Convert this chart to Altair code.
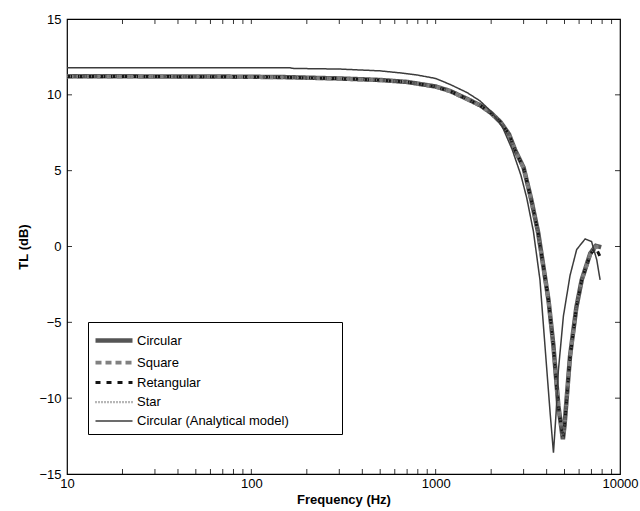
import altair as alt
import pandas as pd

# ---- data ----
series_names = ["Circular", "Square", "Retangular", "Star", "Circular (Analytical model)"]

freq_num = [10, 20, 40, 80, 150, 300, 500, 700, 1000, 1200, 1500, 1750, 2000, 2250, 2500,
            2700, 3000, 3300, 3600, 3850, 4100, 4350, 4630, 4900, 5000, 5360, 5800, 6200,
            6900, 7400, 7900]
circular = [11.22, 11.22, 11.21, 11.20, 11.17, 11.08, 10.98, 10.85, 10.55, 10.25, 9.70, 9.30,
            8.80, 8.20, 7.40, 6.35, 5.20, 3.10, 0.90, -1.40, -3.60, -6.50, -10.50, -12.70,
            -11.80, -7.20, -4.00, -2.20, -0.45, 0.05, -0.05]
square = [11.20, 11.20, 11.19, 11.18, 11.15, 11.06, 10.96, 10.83, 10.53, 10.23, 9.68, 9.28,
          8.78, 8.18, 7.38, 6.33, 5.15, 3.05, 0.85, -1.45, -3.65, -6.55, -10.60, -12.60,
          -11.90, -7.30, -4.05, -2.25, -0.50, 0.00, 0.00]
retangular = [11.21, 11.21, 11.20, 11.19, 11.16, 11.07, 10.97, 10.84, 10.54, 10.24, 9.69, 9.29,
              8.79, 8.19, 7.39, 6.34, 5.18, 3.08, 0.88, -1.42, -3.62, -6.52, -10.55, -12.65,
              -11.85, -7.25, -4.02, -2.22, -0.50, -0.10, -0.80]
star = [11.21, 11.21, 11.20, 11.19, 11.16, 11.07, 10.97, 10.84, 10.54, 10.24, 9.69, 9.29,
        8.79, 8.19, 7.39, 6.34, 5.19, 3.09, 0.89, -1.41, -3.61, -6.51, -10.52, -12.68,
        -11.82, -7.22, -4.01, -2.21, -0.46, 0.03, -0.05]

freq_ana = [10, 160, 170, 300, 500, 640, 800, 1000, 1200, 1480, 1740, 2000, 2300, 2600, 2900,
            3120, 3390, 3680, 3920, 4180, 4355, 4500, 4630, 4930, 5360, 5820, 6470, 7010,
            7480, 7800]
analytical = [11.79, 11.79, 11.74, 11.70, 11.58, 11.45, 11.30, 11.08, 10.68, 10.15, 9.60, 8.90,
              7.90, 6.40, 4.70, 3.20, 1.00, -2.20, -6.60, -11.00, -13.60, -11.00, -8.20, -4.60,
              -1.90, -0.20, 0.50, 0.33, -0.88, -2.20]

x_label_values = [10, 100, 1000, 10000]
x_tick_values = [20, 30, 40, 50, 60, 70, 80, 90, 100,
                 200, 300, 400, 500, 600, 700, 800, 900, 1000,
                 2000, 3000, 4000, 5000, 6000, 7000, 8000, 9000]
y_label_values = [-15, -10, -5, 0, 5, 10, 15]
y_tick_values = [-10, -5, 0, 5, 10]

# ---- styles ----
colors = ["#555555", "#808080", "#151515", "#707070", "#3c3c3c"]
dashes = [[1, 0], [6, 4], [5, 6], [1, 2], [1, 0]]
widths = [4.5, 1.5, 4.5, 1.0, 1.8]

rows = []
for name, vals in zip(series_names[:4], [circular, square, retangular, star]):
    for f, v in zip(freq_num, vals):
        rows.append({"f": f, "v": v, "s": name})
for f, v in zip(freq_ana, analytical):
    rows.append({"f": f, "v": v, "s": series_names[4]})
df = pd.DataFrame(rows)

FONT = "Liberation Sans"
W, H = 553, 455

xscale = alt.Scale(type="log", domain=[10, 10000])
yscale = alt.Scale(domain=[-15, 15])

xaxis = alt.Axis(values=x_label_values, format="d", ticks=False, domain=False,
                 grid=False, labelFont=FONT, labelFontSize=13, labelColor="black",
                 labelPadding=3, labelFlush=False, title="Frequency (Hz)",
                 titleFont=FONT, titleFontSize=13, titleFontWeight="bold",
                 titleColor="black", titlePadding=3)
yaxis = alt.Axis(values=y_label_values, ticks=False, domain=False, grid=False,
                 labelFont=FONT, labelFontSize=13, labelColor="black",
                 labelPadding=6, labelFlush=False, title="TL (dB)",
                 titleFont=FONT, titleFontSize=13, titleFontWeight="bold",
                 titleColor="black", titlePadding=8)

# the matlab legend box is wider than its longest label: widen it with
# non-breaking spaces, closed by a zero-width space so they are not trimmed
legend = alt.Legend(
    title=None, orient="none", legendX=21, legendY=303,
    fillColor="white", strokeColor="black", padding=6,
    symbolType="M-1.1,0H2.6", symbolSize=400, rowPadding=0.5,
    labelFont=FONT, labelFontSize=13, labelColor="black", labelOffset=18,
    labelExpr="datum.label == 'Circular (Analytical model)' ? pad(datum.label, 40, '\u00a0', 'right') + '\u200b' : datum.label",
    labelLimit=400,
)

lines = alt.Chart(df).mark_line(clip=True).encode(
    x=alt.X("f:Q", scale=xscale, axis=xaxis),
    y=alt.Y("v:Q", scale=yscale, axis=yaxis),
    color=alt.Color("s:N", scale=alt.Scale(domain=series_names, range=colors), legend=legend),
    strokeDash=alt.StrokeDash("s:N", scale=alt.Scale(domain=series_names, range=dashes), legend=legend),
    strokeWidth=alt.StrokeWidth("s:N", scale=alt.Scale(domain=series_names, range=widths), legend=legend),
    order=alt.Order("f:Q"),
)

xt = pd.DataFrame({"f": x_tick_values})
yt = pd.DataFrame({"v": y_tick_values})
tick_style = dict(color="black", strokeWidth=0.8)

xb = alt.Chart(xt).mark_rule(**tick_style).encode(
    x=alt.X("f:Q", scale=xscale, axis=xaxis), y=alt.value(H), y2=alt.value(H - 5))
xtop = alt.Chart(xt).mark_rule(**tick_style).encode(
    x=alt.X("f:Q", scale=xscale, axis=xaxis), y=alt.value(0), y2=alt.value(5))
yl = alt.Chart(yt).mark_rule(**tick_style).encode(
    y=alt.Y("v:Q", scale=yscale, axis=yaxis), x=alt.value(0), x2=alt.value(5))
yr = alt.Chart(yt).mark_rule(**tick_style).encode(
    y=alt.Y("v:Q", scale=yscale, axis=yaxis), x=alt.value(W), x2=alt.value(W - 5))

chart = alt.layer(lines, xb, xtop, yl, yr).properties(
    width=W, height=H,
    autosize=alt.AutoSizeParams(type="none"),
    padding={"left": 67, "top": 19, "right": 20, "bottom": 37},
    background="white",
).configure_view(stroke="black", strokeWidth=1.2)

chart.save("out.html", embed_options={"renderer": "svg", "actions": False})
